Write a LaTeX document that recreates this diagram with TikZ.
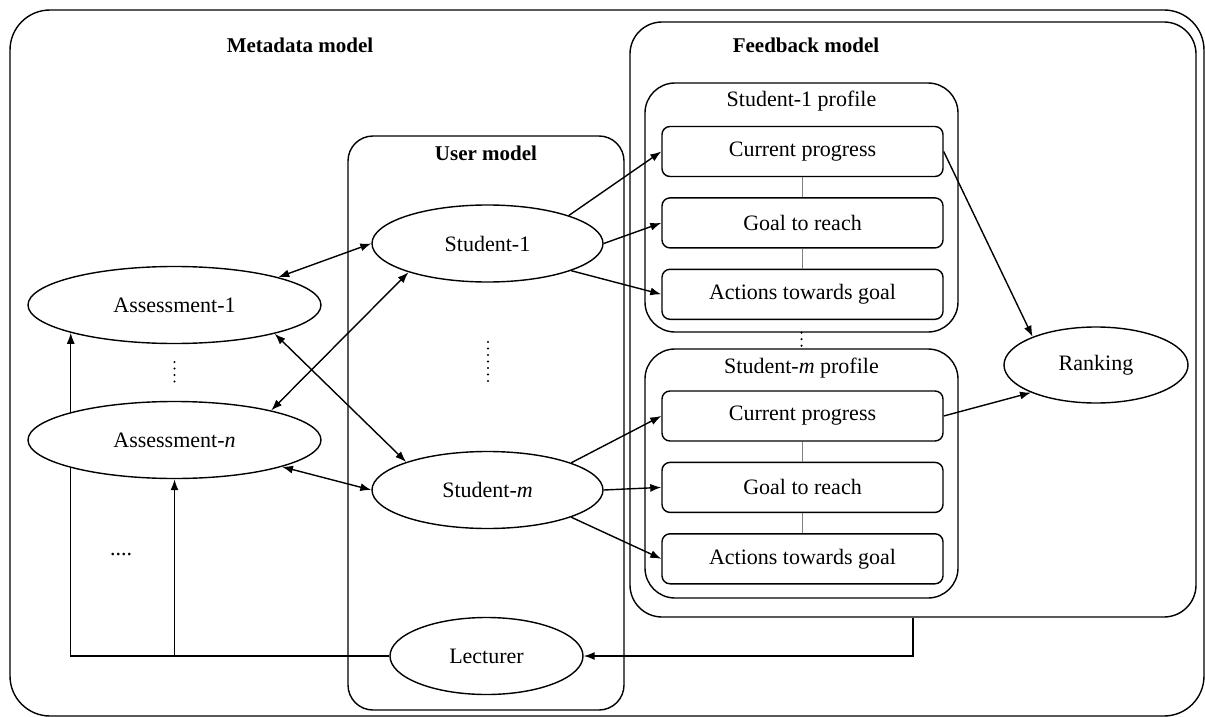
\documentclass[tikz,border=0pt]{standalone}
\usepackage{fontspec}
\setmainfont{Liberation Serif}
\usetikzlibrary{shapes.geometric,arrows.meta,positioning}
\pgfdeclarelayer{back}
\pgfsetlayers{back,main}

\begin{document}
\begin{tikzpicture}[x=1pt, y=-1pt, node distance=20pt, line width=1.4pt,
	>={Latex[length=11pt,width=8pt]},
	every node/.style={font=\fontsize{22}{26}\selectfont},
	heading/.style={font=\fontsize{21}{25}\selectfont\bfseries},
	modelbox/.style={rectangle, draw, rounded corners=#1, inner sep=0pt},
	modelbox/.default=30pt,
	itembox/.style={rectangle, draw, rounded corners=8pt, inner sep=0pt,
		minimum width=281pt, minimum height=50pt},
	oval/.style={ellipse, draw, fill=white, inner sep=0pt, minimum height=77pt},
	linkline/.style={draw=gray, line width=0.9pt},
	backline/.style={draw, line width=1.4pt},
	dotline/.style={line width=2.4pt, line cap=round, dash pattern=on 0pt off 6.5pt}]
	\useasboundingbox (0,0) rectangle (1205,717);

	\node[modelbox=40pt, minimum width=1194pt, minimum height=706pt] (metadata) at (607,363) {};
	\node[heading] (metatitle) at (300,45) {Metadata model};
	\node[modelbox=32pt, minimum width=566pt, minimum height=595pt] (feedback) at (913,319.5) {};
	\node[heading] (feedtitle) at (806,45) {Feedback model};
	\node[modelbox=25pt, minimum width=276pt, minimum height=574pt] (user) at (486,423) {};
	\node[heading] (usertitle) at (486,153) {User model};

	\node[modelbox, minimum width=313pt, minimum height=249pt] (prof1) at (801.5,207.5) {};
	\node (prof1title) at (801.5,101) {Student-1 profile};
	\node[itembox] (cp1) at (802.5,151.5) {Current progress};
	\node[itembox, below=of cp1] (goal1) {Goal to reach};
	\node[itembox, below=of goal1] (act1) {Actions towards goal};

	\node[modelbox, minimum width=313pt, minimum height=249pt] (profm) at (801.5,473.5) {};
	\node (profmtitle) at (801.5,368) {Student-\textit{m} profile};
	\node[itembox] (cpm) at (802.5,416) {Current progress};
	\node[itembox, below=of cpm] (goalm) {Goal to reach};
	\node[itembox, below=of goalm] (actm) {Actions towards goal};

	\path[linkline] (cp1) -- (goal1) (goal1) -- (act1)
		(cpm) -- (goalm) (goalm) -- (actm);
	\draw[dotline] (prof1.south) -- (profm.north);

	\node[oval, minimum width=293pt] (ass1) at (174.5,305) {Assessment-1};
	\node[oval, minimum width=293pt] (assn) at (174.5,440) {Assessment-\textit{n}};
	\node[oval, minimum width=231pt] (stu1) at (487.5,243.5) {Student-1};
	\node[oval, minimum width=231pt] (stum) at (487.5,490) {Student-\textit{m}};
	\node[oval, minimum width=193pt] (lect) at (486.5,656) {Lecturer};
	\node[oval, minimum width=184pt, minimum height=76pt] (rank) at (1096,365) {Ranking};
	\node (more) at (121,555) {....};

	\coordinate (assdots1) at (174.5,362);
	\coordinate (assdots2) at (174.5,382);
	\coordinate (studots1) at (488,342);
	\coordinate (studots2) at (488,387);
	\draw[dotline] (assdots1) -- (assdots2);
	\draw[dotline] (studots1) -- (studots2);

	\path[<->] (ass1.15) edge (stu1.west)
		(ass1.344) edge (stum.161)
		(assn.17) edge (stu1.200)
		(assn.346) edge (stum.west);
	\path[->] (stu1.19) edge (cp1.west)
		(stu1.east) edge (goal1.west)
		(stu1.342) edge (act1.west)
		(stum.18) edge (cpm.west)
		(stum.east) edge (goalm.west)
		(stum.342) edge (actm.west)
		(cp1.east) edge (rank.156)
		(cpm.east) edge (rank.203);
	\draw[->] (feedback.south) |- (lect.east);
	\begin{pgfonlayer}{back}
		\path[backline, ->] (lect.west) -| (ass1.195);
		\path[backline, ->] (lect.west) -| (assn.south);
	\end{pgfonlayer}
\end{tikzpicture}
\end{document}
